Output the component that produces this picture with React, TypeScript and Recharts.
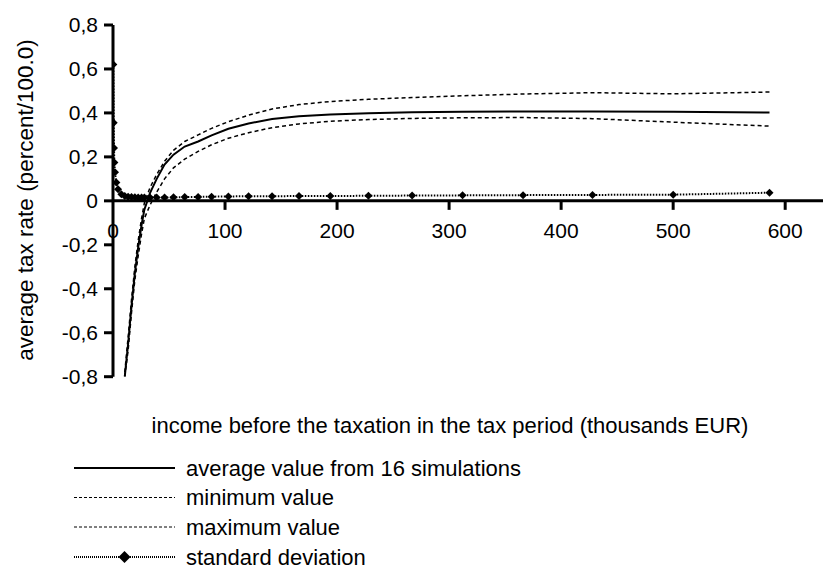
import React from 'react';
import { LineChart, Line, XAxis, YAxis, ReferenceLine } from 'recharts';

// income (thousands EUR)
const incomes = [0.3, 0.6, 0.9, 1.2, 1.8, 3, 4.5, 7.5, 10.5, 13.5, 16.5, 19.5, 22.5, 25.5, 28, 33, 39, 46, 54, 64, 76, 88, 103, 121, 142, 166, 194, 228, 267, 312, 366, 428, 500, 586];
const avgValues: (number | null)[] = [null, null, null, null, null, null, null, null, -0.8, -0.65, -0.48, -0.33, -0.21, -0.11, -0.04, 0.035, 0.1, 0.165, 0.21, 0.247, 0.27, 0.298, 0.328, 0.352, 0.372, 0.385, 0.393, 0.399, 0.403, 0.405, 0.407, 0.407, 0.405, 0.402];
const minValues: (number | null)[] = [null, null, null, null, null, null, null, null, -0.8, -0.68, -0.51, -0.36, -0.25, -0.15, -0.08, -0.02, 0.04, 0.1, 0.15, 0.19, 0.225, 0.255, 0.285, 0.31, 0.333, 0.35, 0.362, 0.37, 0.375, 0.378, 0.379, 0.374, 0.358, 0.34];
const maxValues: (number | null)[] = [null, null, null, null, null, null, null, null, -0.78, -0.62, -0.45, -0.3, -0.18, -0.08, -0.01, 0.06, 0.12, 0.18, 0.23, 0.27, 0.3, 0.33, 0.36, 0.39, 0.418, 0.438, 0.452, 0.462, 0.47, 0.478, 0.486, 0.492, 0.487, 0.495];
const stdValues = [0.62, 0.355, 0.24, 0.175, 0.13, 0.083, 0.053, 0.03, 0.022, 0.019, 0.017, 0.016, 0.015, 0.015, 0.015, 0.015, 0.015, 0.015, 0.016, 0.017, 0.018, 0.019, 0.02, 0.021, 0.021, 0.022, 0.022, 0.023, 0.024, 0.025, 0.026, 0.027, 0.028, 0.037];

const xTicks = [0, 100, 200, 300, 400, 500, 600];
const yTicks = [-0.8, -0.6, -0.4, -0.2, 0, 0.2, 0.4, 0.6, 0.8];

const seriesNames = ['average value from 16 simulations', 'minimum value', 'maximum value', 'standard deviation'];
const xTitle = 'income before the taxation in the tax period (thousands EUR)';
const yTitle = 'average tax rate (percent/100.0)';

const data = incomes.map((x, i) => ({ x, avg: avgValues[i], min: minValues[i], max: maxValues[i], std: stdValues[i] }));

const W = 823;
const H = 568;
const TOP = 17;
const BOTTOM = 368.7;
const Y0 = TOP + (BOTTOM - TOP) / 2;
const XAXIS_H = 30;
const FONT = '"Liberation Sans", Arial, sans-serif';

const fmtY = (v: number) => (v === 0 ? '0' : v.toFixed(1).replace('.', ','));

const XTick = (props: any) => {
  const { x, payload } = props;
  return (
    <g>
      {payload.value !== 0 && <line x1={x} x2={x} y1={Y0} y2={Y0 + 9} stroke="#000" strokeWidth={3} />}
      <text x={x} y={Y0 + 37} textAnchor="middle" fontSize={21} fontFamily={FONT} fill="#000">
        {payload.value}
      </text>
    </g>
  );
};

const Diamond = (props: any) => {
  const { cx, cy, index } = props;
  if (cx == null || cy == null) return <g key={index} />;
  const r = 4;
  return <path key={index} d={`M${cx},${cy - r}L${cx + r},${cy}L${cx},${cy + r}L${cx - r},${cy}Z`} fill="#000" />;
};

export default function App() {
  const legendY = [460, 489.5, 519, 549];
  const lx1 = 66;
  const lx2 = 167;
  const dmx = (lx1 + lx2) / 2;
  return (
    <div style={{ position: 'relative', width: W, height: H, fontFamily: FONT }}>
      <LineChart width={W} height={H} data={data} margin={{ top: TOP, right: 1, left: 0, bottom: H - BOTTOM - XAXIS_H }}>
        <XAxis
          dataKey="x"
          type="number"
          domain={[0, 640]}
          ticks={xTicks}
          allowDataOverflow
          axisLine={false}
          tickLine={false}
          height={XAXIS_H}
          tick={<XTick />}
        />
        <YAxis
          type="number"
          domain={[-0.8, 0.8]}
          ticks={yTicks}
          allowDataOverflow
          width={105}
          tickFormatter={fmtY}
          tickSize={9}
          tickMargin={6}
          axisLine={{ stroke: '#000', strokeWidth: 3 }}
          tickLine={{ stroke: '#000', strokeWidth: 3 }}
          tick={{ fill: '#000', fontSize: 21, fontFamily: FONT }}
        />
        <ReferenceLine y={0} stroke="#000" strokeWidth={3} />
        <Line dataKey="min" stroke="#000" strokeWidth={1.5} strokeDasharray="4 3" dot={false} isAnimationActive={false} />
        <Line dataKey="max" stroke="#000" strokeWidth={1.5} strokeDasharray="4 3" dot={false} isAnimationActive={false} />
        <Line dataKey="avg" stroke="#000" strokeWidth={2} dot={false} isAnimationActive={false} />
        <Line dataKey="std" stroke="#000" strokeWidth={2} strokeDasharray="1.5 1.5" dot={<Diamond />} activeDot={false} isAnimationActive={false} />
      </LineChart>
      <svg width={W} height={H} style={{ position: 'absolute', left: 0, top: 0, pointerEvents: 'none' }}>
        <text
          x={17}
          y={192}
          transform="rotate(-90 17 192)"
          textAnchor="middle"
          dominantBaseline="central"
          fontSize={22.5}
          fontFamily={FONT}
          fill="#000"
        >
          {yTitle}
        </text>
        <text x={442} y={417} textAnchor="middle" dominantBaseline="central" fontSize={22} fontFamily={FONT} fill="#000">
          {xTitle}
        </text>
        {seriesNames.map((name, i) => {
          const y = legendY[i];
          return (
            <g key={name}>
              {i === 0 && <line x1={lx1} x2={lx2} y1={y} y2={y} stroke="#000" strokeWidth={2} />}
              {(i === 1 || i === 2) && <line x1={lx1} x2={lx2} y1={y} y2={y} stroke="#000" strokeWidth={1} strokeDasharray="3 2" />}
              {i === 3 && (
                <g>
                  <line x1={lx1} x2={lx2} y1={y} y2={y} stroke="#000" strokeWidth={2} strokeDasharray="1 1" />
                  <path d={`M${dmx},${y - 6}L${dmx + 6},${y}L${dmx},${y + 6}L${dmx - 6},${y}Z`} fill="#000" />
                </g>
              )}
              <text x={178} y={y} dominantBaseline="central" fontSize={22} fontFamily={FONT} fill="#000">
                {name}
              </text>
            </g>
          );
        })}
      </svg>
    </div>
  );
}
